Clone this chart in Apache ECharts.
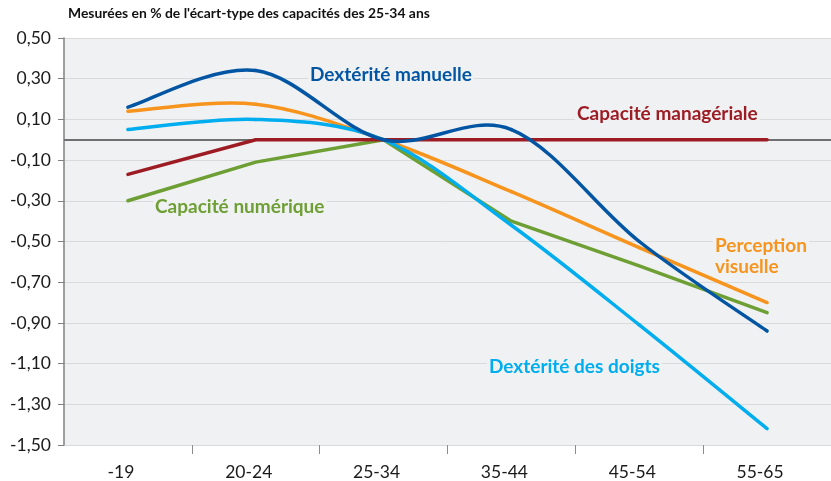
<!DOCTYPE html>
<html><head><meta charset="utf-8">
<script src="https://cdn.jsdelivr.net/npm/echarts@6/dist/echarts.min.js"></script>
<style>html,body{margin:0;padding:0;background:#fff}#c{width:831px;height:481px}</style>
</head><body><div id="c"></div>
<script>
const categories = ['-19', '20-24', '25-34', '35-44', '45-54', '55-65'];
const dexteriteManuelle = [0.16, 0.34, 0.0, 0.05, -0.50, -0.94];
const perceptionVisuelle = [0.14, 0.175, 0.0, -0.255, -0.53, -0.80];
const dexteriteDoigts = [0.05, 0.10, 0.0, -0.42, -0.91, -1.42];
const capaciteNumerique = [-0.30, -0.11, 0.0, -0.40, -0.62, -0.85];
const capaciteManageriale = [-0.17, 0.0, 0.0, 0.0, 0.0, 0.0];
const yTicks = [-1.5, -1.3, -1.1, -0.9, -0.7, -0.5, -0.3, -0.1, 0.1, 0.3, 0.5];
const title = "Mesurées en % de l'écart-type des capacités des 25-34 ans";

const FONT = 'Lato';
const chart = echarts.init(document.getElementById('c'), null, {renderer: 'canvas'});
const fmt = v => v.toFixed(2).replace('.', ',');
const lw = 3.5;

function straight(name, data, color, z) {
  return {name, type: 'line', data, smooth: false, symbol: 'none', z,
    lineStyle: {color, width: lw, cap: 'round', join: 'round'}, itemStyle: {color}};
}
// Smoothed line (Catmull-Rom / Bezier), coordinates via the axes' scales
function smoothLine(name, arr, color, z) {
  const n = arr.length;
  return {name, type: 'custom', z, coordinateSystem: 'cartesian2d',
    data: arr.map((v, i) => [i, v]),
    renderItem: function (params, api) {
      const i = params.dataIndex;
      if (i >= n - 1) return null;
      const P = j => { const k = Math.max(0, Math.min(n - 1, j)); return api.coord([k, arr[k]]); };
      const p0 = P(i - 1), p1 = P(i), p2 = P(i + 1), p3 = P(i + 2);
      return {type: 'bezierCurve', z2: 1,
        shape: {x1: p1[0], y1: p1[1], x2: p2[0], y2: p2[1],
          cpx1: p1[0] + (p2[0] - p0[0]) / 6, cpy1: p1[1] + (p2[1] - p0[1]) / 6,
          cpx2: p2[0] - (p3[0] - p1[0]) / 6, cpy2: p2[1] - (p3[1] - p1[1]) / 6},
        style: {stroke: color, lineWidth: lw, fill: null, lineCap: 'round'}};
    }};
}
const s0 = straight('Capacité numérique', capaciteNumerique, '#6e9f34', 3);
s0.markLine = {silent: true, symbol: 'none', label: {show: false},
  lineStyle: {color: '#6f6f6f', width: 2, type: 'solid'}, data: [{yAxis: 0}]};

const lbl = (text, x, y, fill) => ({type: 'text', x, y, z: 1,
  style: {text, fill, font: 'bold 19px Lato', verticalAlign: 'middle',
    backgroundColor: '#f0f1f3', padding: [0, 2], lineHeight: 21}});

chart.setOption({
  animation: false,
  title: {text: title, left: 68, top: 7, padding: 0,
    textStyle: {fontFamily: FONT, fontWeight: 'bold', fontSize: 13.9, color: '#111'}},
  grid: {left: 64, top: 38, width: 768, height: 408, show: true,
    backgroundColor: '#f0f1f3', borderWidth: 0},
  xAxis: {type: 'category', data: categories, boundaryGap: true,
    axisLine: {show: false, onZero: false},
    axisTick: {show: true, length: 9, lineStyle: {color: '#8c8c8c', width: 1},
      interval: (i) => i > 0},
    axisLabel: {fontFamily: FONT, fontSize: 17.5, color: '#1a1a1a', margin: 18,
      padding: [0, 14, 0, 0]}},
  yAxis: {type: 'value', min: -1.5, max: 0.5,
    axisLine: {show: true, lineStyle: {color: '#808080', width: 1.5}},
    axisTick: {show: true, length: 6, customValues: yTicks, lineStyle: {color: '#808080'}},
    axisLabel: {customValues: yTicks, formatter: fmt, fontFamily: FONT, fontSize: 17.5,
      color: '#1a1a1a', margin: 13},
    splitLine: {show: true, lineStyle: {color: '#d9dadc', width: 1}}},
  series: [
    s0,
    smoothLine('Perception visuelle', perceptionVisuelle, '#f7941d', 4),
    smoothLine('Dextérité des doigts', dexteriteDoigts, '#00adef', 5),
    straight('Capacité managériale', capaciteManageriale, '#9d1c24', 6),
    smoothLine('Dextérité manuelle', dexteriteManuelle, '#0255a3', 7)
  ],
  graphic: [
    lbl('Dextérité manuelle', 308, 75, '#0255a3'),
    lbl('Capacité managériale', 575, 114, '#9d1c24'),
    lbl('Capacité numérique', 153, 207, '#6e9f34'),
    lbl('Perception\nvisuelle', 713, 256, '#f7941d'),
    lbl('Dextérité des doigts', 487, 367, '#00adef')
  ]
});
</script></body></html>
